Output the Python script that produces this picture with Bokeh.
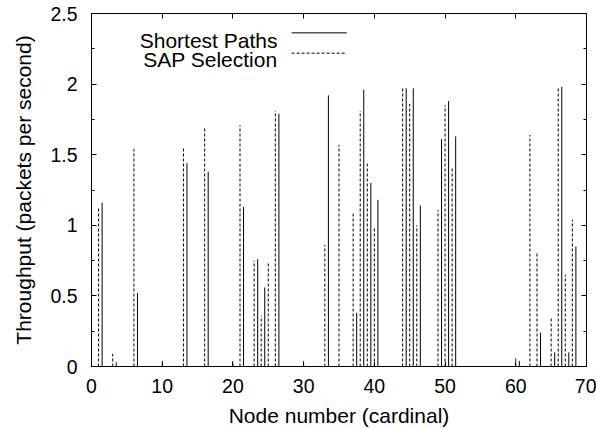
from bokeh.plotting import figure
from bokeh.models import (ColumnDataSource, LinearAxis, Range1d, FixedTicker,
                          CustomJSTickFormatter, Label, Arrow)
from bokeh.transform import dodge
from bokeh.embed import file_html
from bokeh.resources import INLINE

# ---- data ----
sap_nodes = [1, 3, 6, 10, 13, 16, 20, 21, 23, 24, 25, 26, 30, 33, 35, 37, 38, 39,
             40, 44, 45, 46, 49, 50, 51, 60, 62, 63, 65, 66, 67, 68]
sap_values = [1.12, 0.09, 1.54, 0.04, 1.55, 1.70, 0.04, 1.71, 0.75, 0.36, 0.73, 1.81,
              0.04, 0.86, 1.57, 1.09, 1.81, 1.45, 0.98, 1.98, 1.86, 1.00, 1.11, 1.85,
              1.41, 0.06, 1.64, 0.80, 0.34, 1.98, 0.65, 1.04]

sp_nodes = [1, 3, 6, 13, 16, 21, 23, 24, 26, 33, 37, 38, 39, 40, 44, 45, 46, 49,
            50, 51, 60, 63, 65, 66, 67, 68]
sp_values = [1.16, 0.03, 0.52, 1.44, 1.38, 1.13, 0.76, 0.56, 1.79, 1.92, 0.38, 1.96,
             1.30, 1.18, 1.97, 1.97, 1.14, 1.61, 1.88, 1.63, 0.04, 0.24, 0.10, 1.98,
             0.10, 0.85]

x_ticks = [0, 10, 20, 30, 40, 50, 60, 70]
y_ticks = [0, 0.5, 1, 1.5, 2, 2.5]
y_minor = [0.25, 0.75, 1.25, 1.75, 2.25]

series_names = ["Shortest Paths", "SAP Selection"]

FONT = "Liberation Sans"

p = figure(width=596, height=429, output_backend="svg", toolbar_location=None,
           x_range=Range1d(0, 70), y_range=Range1d(0, 2.5),
           min_border_left=91, min_border_right=10, min_border_top=13,
           min_border_bottom=63)
p.xgrid.visible = False
p.ygrid.visible = False
p.outline_line_color = "black"
p.background_fill_color = "white"
p.border_fill_color = "white"

sap_src = ColumnDataSource(dict(node=sap_nodes, value=sap_values,
                                zero=[0] * len(sap_nodes)))
sp_src = ColumnDataSource(dict(node=sp_nodes, value=sp_values,
                               zero=[0] * len(sp_nodes)))

p.segment(x0="node", y0="zero", x1="node", y1="value", source=sap_src,
          line_color="black", line_width=1, line_dash="3 2")
p.segment(x0=dodge("node", 0.5, range=p.x_range), y0="zero",
          x1=dodge("node", 0.5, range=p.x_range), y1="value", source=sp_src,
          line_color="black", line_width=1)

# axes
xt = FixedTicker(ticks=x_ticks, minor_ticks=[])
yt = FixedTicker(ticks=y_ticks, minor_ticks=y_minor)


def style_axis(ax, show_labels=True):
    ax.axis_line_color = "black"
    ax.major_tick_line_color = "black"
    ax.minor_tick_line_color = "black"
    ax.major_tick_in = 5
    ax.major_tick_out = 0
    ax.minor_tick_in = 3
    ax.minor_tick_out = 0
    ax.major_label_text_font = FONT
    ax.major_label_text_font_size = "19.5px"
    ax.major_label_text_color = "black"
    ax.axis_label_text_font = FONT
    ax.axis_label_text_font_size = "21px"
    ax.axis_label_text_font_style = "normal"
    ax.axis_label_text_color = "black"
    if not show_labels:
        ax.formatter = CustomJSTickFormatter(code="return ''")
        ax.major_label_standoff = 0


p.xaxis.ticker = xt
p.yaxis.ticker = yt
style_axis(p.xaxis[0])
style_axis(p.yaxis[0])
p.xaxis.axis_label = "Node number (cardinal)"
p.yaxis.axis_label = "Throughput (packets per second)"
p.xaxis.major_label_standoff = 12
p.yaxis.major_label_standoff = 14
p.xaxis.axis_label_standoff = 8
p.yaxis.axis_label_standoff = 12

top_ax = LinearAxis(ticker=FixedTicker(ticks=x_ticks, minor_ticks=[]))
style_axis(top_ax, show_labels=False)
p.add_layout(top_ax, "above")
right_ax = LinearAxis(ticker=FixedTicker(ticks=y_ticks, minor_ticks=y_minor))
style_axis(right_ax, show_labels=False)
p.add_layout(right_ax, "right")

# legend (gnuplot style: text right-aligned, sample line to its right)
leg_text_x = 26.3
leg_line_x0, leg_line_x1 = 28.3, 36.1
leg_rows = [(2.309, 2.363, None), (2.171, 2.219, "3 2")]
for name, (ty, ly, dash) in zip(series_names, leg_rows):
    p.add_layout(Label(x=leg_text_x, y=ty, text=name, text_align="right",
                       text_baseline="alphabetic", text_font=FONT,
                       text_font_size="21px", text_color="black"))
    arr = Arrow(start=None, end=None, x_start=leg_line_x0, y_start=ly,
                x_end=leg_line_x1, y_end=ly, line_color="black", line_width=1)
    if dash:
        arr.line_dash = dash
    p.add_layout(arr)

open("out.html", "w").write(file_html(p, INLINE))
